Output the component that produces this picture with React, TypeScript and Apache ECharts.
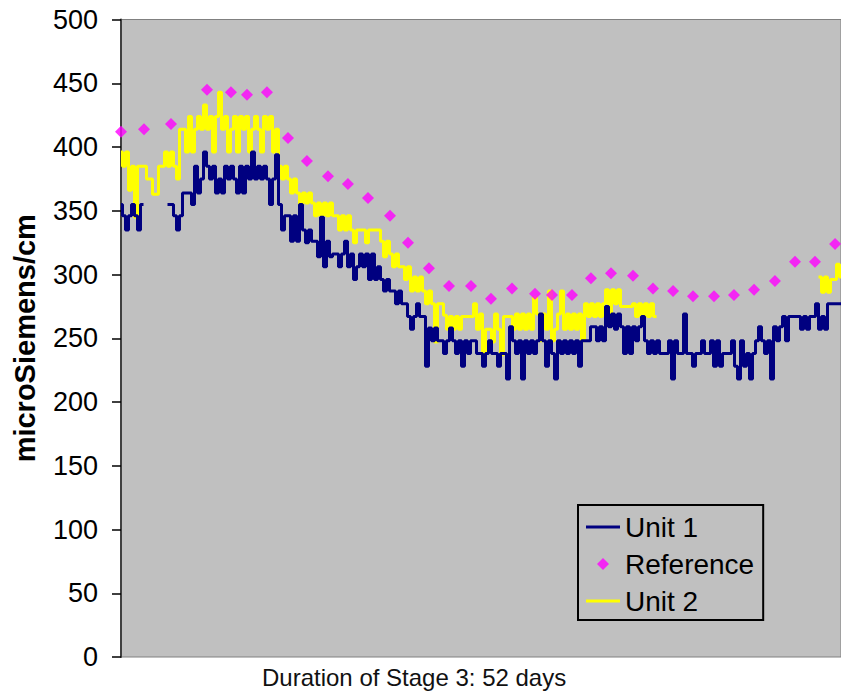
import React, { useEffect, useRef } from "react";
import * as echarts from "echarts";

const FONT = "'Liberation Sans', Arial, Helvetica, sans-serif";

// x axis: 52 days of Stage 3; line series are sampled at 240 equal steps
const TOTAL_DAYS = 52;
const SAMPLE_COUNT = 240;

const yAxisTitle = "microSiemens/cm";
const xAxisTitle = "Duration of Stage 3: 52 days";
const seriesNames = ["Unit 1", "Reference", "Unit 2"];

// Unit 1 conductivity (microSiemens/cm), one value per sample step
const unit1Values: (number | null)[] = [
  355, 346, 335, 346, 355, 346, 335, 355,
  null, null, null, null, null, null, null, null,
  355, 355, 346, 335, 346, 364, 364, 364,
  355, 385, 364, 375, 396, 385, 375, 385,
  364, 375, 364, 385, 375, 385, 375, 364,
  385, 364, 385, 375, 396, 375, 385, 375,
  385, 375, 355, 375, 394, 355, 335, 346,
  346, 326, 346, 326, 355, 335, 325, 335,
  326, 326, 314, 345, 306, 326, 314, 316,
  316, 306, 316, 326, 306, 316, 296, 306,
  316, 306, 316, 296, 316, 296, 306, 296,
  287, 296, 287, 287, 277, 287, 277, 277,
  267, 257, 267, 277, 267, 267, 228, 258,
  248, 258, 248, 248, 238, 248, 258, 248,
  238, 248, 228, 248, 238, 248, 248, 238,
  238, 228, 238, 248, 238, 238, 228, 238,
  238, 218, 259, 248, 238, 248, 218, 248,
  238, 248, 238, 248, 269, 248, 228, 248,
  238, 218, 248, 238, 248, 238, 248, 238,
  248, 228, 248, 248, 248, 259, 259, 248,
  259, 248, 275, 259, 269, 257, 269, 259,
  238, 259, 238, 259, 248, 259, 267, 248,
  238, 248, 238, 248, 238, 238, 238, 248,
  218, 248, 238, 238, 269, 238, 238, 228,
  238, 238, 248, 238, 238, 248, 228, 248,
  228, 238, 238, 238, 248, 228, 218, 248,
  228, 238, 218, 238, 248, 259, 248, 238,
  248, 218, 259, 248, 259, 267, 248, 267,
  267, 267, 267, 257, 267, 257, 267, 267,
  277, 257, 267, 257, 277, 277, 277, 277,
  277,
];

// Unit 2 conductivity (microSiemens/cm), one value per sample step
const unit2Values: (number | null)[] = [
  396, 385, 396, 366, 385, 345, 385, 385,
  385, 375, 375, 363, 363, 385, 385, 396,
  385, 396, 385, 375, 414, 414, 396, 424,
  396, 414, 424, 414, 433, 414, 424, 396,
  424, 443, 414, 424, 396, 414, 424, 396,
  424, 414, 424, 396, 414, 424, 414, 396,
  424, 414, 424, 396, 414, 385, 375, 385,
  375, 364, 375, 364, 354, 364, 356, 364,
  356, 346, 356, 346, 356, 346, 356, 346,
  346, 335, 346, 335, 346, 335, 325, 335,
  335, 335, 325, 335, 335, 335, 335, 326,
  314, 326, 316, 306, 316, 306, 306, 296,
  306, 287, 298, 287, 298, 287, 277, 287,
  277, 247, 277, 277, 268, 257, 267, 257,
  267, 257, 267, 267, 267, 267, 277, 257,
  269, 237, 257, 257, 247, 269, 257, 237,
  267, 267, 267, 257, 269, 257, 269, 257,
  269, 257, 282, 269, 248, 269, 257, 287,
  248, 257, 269, 287, 257, 269, 257, 269,
  257, 269, 248, 277, 267, 277, 267, 277,
  267, 277, 288, 267, 288, 277, 288, 275,
  275, 275, 275, 277, 267, 277, 267, 277,
  267, 277, 267, null, null, null, null, null,
  null, null, null, null, null, null, null, null,
  null, null, null, null, null, null, null, null,
  null, null, null, null, null, null, null, null,
  null, null, null, null, null, null, null, null,
  null, null, null, null, null, null, null, null,
  null, null, null, null, null, null, null, null,
  null, 298, 286, 298, 286, 296, 296, 308,
  298,
];

// Reference readings: day and value
const referenceDays = [
  0, 1.66, 3.61, 6.21, 7.94, 9.1, 10.54,
  12.06, 13.43, 14.95, 16.39, 17.84, 19.43, 20.73,
  22.24, 23.69, 25.28, 26.72, 28.24, 29.9, 31.13,
  32.57, 33.94, 35.39, 36.98, 38.42, 39.87, 41.31,
  42.83, 44.27, 45.72, 47.23, 48.68, 50.12, 51.57,
];
const referenceValues = [
  412, 414, 418, 445, 443, 441, 443,
  407, 389, 377, 371, 360, 346, 325,
  305, 291, 291, 281, 289, 285, 284,
  284, 297, 301, 299, 289, 287, 283,
  283, 284, 288, 295, 310, 310, 324,
];

const LINE_ICON = "path://M0 0H34V3H0Z";
const DIAMOND_ICON = "path://M5 0L10 5L5 10L0 5Z";

export default function App() {
  const ref = useRef<HTMLDivElement>(null);

  useEffect(() => {
    if (!ref.current) return;
    const chart = echarts.init(ref.current, null, { renderer: "svg" });
    const step = TOTAL_DAYS / SAMPLE_COUNT;
    const toPairs = (arr: (number | null)[]) =>
      arr.map((v, i) => [i * step, v === null ? "-" : v]);
    const refPairs = referenceDays.map((d, i) => [d, referenceValues[i]]);

    chart.setOption({
      animation: false,
      backgroundColor: "#ffffff",
      textStyle: { fontFamily: FONT },
      grid: {
        left: 121,
        right: 0,
        top: 19.5,
        bottom: 41,
        show: true,
        backgroundColor: "#C0C0C0",
        borderColor: "#808080",
        borderWidth: 1,
      },
      xAxis: {
        type: "value",
        min: 0,
        max: TOTAL_DAYS,
        axisLine: { show: false },
        axisTick: { show: false },
        axisLabel: { show: false },
        splitLine: { show: false },
      },
      yAxis: {
        type: "value",
        min: 0,
        max: 500,
        interval: 50,
        axisLine: { show: true, lineStyle: { color: "#404040", width: 2 } },
        axisTick: { show: true, length: 9, lineStyle: { color: "#000000", width: 1.5 } },
        axisLabel: { fontSize: 27, color: "#000000", fontFamily: FONT, margin: 23 },
        splitLine: { show: false },
        name: yAxisTitle,
        nameLocation: "middle",
        nameGap: 82,
        nameTextStyle: { fontSize: 29, fontWeight: "bold", color: "#000000", fontFamily: FONT },
      },
      legend: {
        orient: "vertical",
        left: 578,
        top: 505,
        itemWidth: 34,
        itemHeight: 12,
        itemGap: 9,
        padding: [8, 9, 5, 8],
        symbolKeepAspect: true,
        borderColor: "#000000",
        borderWidth: 2,
        backgroundColor: "transparent",
        textStyle: { fontSize: 28, color: "#000000", fontFamily: FONT },
        data: [
          { name: seriesNames[0], icon: LINE_ICON },
          { name: seriesNames[1], icon: DIAMOND_ICON },
          { name: seriesNames[2], icon: LINE_ICON },
        ],
      },
      graphic: [
        {
          type: "text",
          x: 262,
          y: 677,
          style: {
            text: xAxisTitle,
            fontSize: 24,
            fontFamily: FONT,
            fill: "#111111",
            textVerticalAlign: "middle",
            verticalAlign: "middle",
          },
        },
      ],
      series: [
        {
          name: seriesNames[2],
          type: "line",
          step: "middle",
          symbol: "none",
          data: toPairs(unit2Values),
          lineStyle: { color: "#FFFF00", width: 3 },
          itemStyle: { color: "#FFFF00" },
          connectNulls: false,
          z: 2,
        },
        {
          name: seriesNames[0],
          type: "line",
          step: "middle",
          symbol: "none",
          data: toPairs(unit1Values),
          lineStyle: { color: "#000080", width: 3 },
          itemStyle: { color: "#000080" },
          connectNulls: false,
          z: 3,
        },
        {
          name: seriesNames[1],
          type: "scatter",
          symbol: "diamond",
          symbolSize: 12,
          clip: false,
          data: refPairs,
          itemStyle: { color: "#FF00FF" },
          z: 4,
        },
      ],
    });

    return () => chart.dispose();
  }, []);

  return (
    <div
      ref={ref}
      style={{ position: "fixed", left: 0, top: 0, width: 841, height: 698, background: "#fff" }}
    />
  );
}
